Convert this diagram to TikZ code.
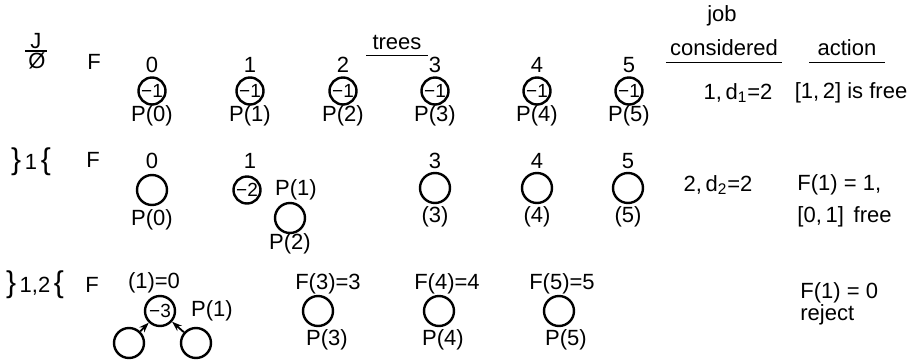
\documentclass[tikz,border=0pt]{standalone}
\usepackage{fontspec}
\setmainfont{Liberation Sans}
\usetikzlibrary{arrows.meta}
\newcommand{\bigbr}[1]{{\fontsize{15}{15}\selectfont #1}}
\begin{document}
\begin{tikzpicture}[x=0.5pt, y=-0.5pt,
  tree/.style={circle, draw, line width=1.2pt, minimum size=\treesz, inner sep=0pt, font=\fontsize{9.5}{9}\selectfont},
  treesm/.style={tree, minimum size=\treesmsz},
  lbl/.style={inner sep=0pt, font=\fontsize{11}{12}\selectfont},
  lbll/.style={lbl, anchor=west},
  uline/.style={line width=0.8pt}]
% Trees of the job sequencing example, pixel grid 912 x 360
\def\treesz{15pt}
\def\treesmsz{13.5pt}
\useasboundingbox (0,0) rectangle (912,360);
% Header
\node[lbl] (hj) at (36,41) {J};
\node[lbl] (hnull) at (37,61) {Ø};
\draw[uline] (25,51) coordinate (hja) -- (47,51) coordinate (hjb);
\node[lbl] (trees) at (397,42) {trees};
\draw[uline] ([xshift=-3pt,yshift=-3pt]trees.south west) -- ([xshift=3pt,yshift=-3pt]trees.south east);
\node[lbl] (hjob) at (722,16) {job};
\node[lbl] (hcons) at (724,48) {considered};
\draw[uline] ([xshift=-2pt,yshift=-3pt]hcons.south west) -- ([xshift=2pt,yshift=-3pt]hcons.south east);
\node[lbl] (hact) at (847,48) {action};
\draw[uline] ([xshift=-4pt,yshift=-3pt]hact.south west) -- ([xshift=4pt,yshift=-3pt]hact.south east);
% Row 1: J empty
\node[lbl] (f1) at (94,62) {F};
\foreach \i/\x in {0/152,1/250,2/343,3/435,4/537,5/629} {
  \node[lbl] (a\i) at (\x,65) {\i};
  \node[treesm] (ta\i) at (\x,91) {−1};
  \node[lbl] (pa\i) at (\x,116) {P(\i)};
}
\node[lbl] (job1) at (738,93) {1,\,d\textsubscript{1}=2};
\node[lbl] (act1) at (851,93) {[1,\,2] is free};
% Row 2: J = {1}
\node[lbl] (j2) at (31,162) {\bigbr{\}}\,1\,\bigbr{\{}};
\node[lbl] (f2) at (93,160) {F};
\node[lbl] (b0) at (152,161) {0};
\node[tree] (tb0) at (152,190) {};
\node[lbl] (pb0) at (152,220) {P(0)};
\node[lbl] (b1) at (250,161) {1};
\node[treesm] (tb1) at (247,190) {−2};
\node[lbl] (pb1) at (296,190) {P(1)};
\node[tree] (tb2) at (290,218) {};
\node[lbl] (pb2) at (290,244) {P(2)};
\foreach \i/\x in {3/435,4/537,5/628} {
  \node[lbl] (b\i) at (\x,161) {\i};
  \node[tree] (tb\i) at (\x,188) {};
  \node[lbl] (pb\i) at (\x,217) {(\i)};
}
\node[lbl] (job2) at (718,185) {2,\,d\textsubscript{2}=2};
\node[lbll] (act2a) at (797,185) {F(1) = 1,};
\node[lbll] (act2b) at (797,217) {[0,\,1]\, free};
% Row 3: J = {1,2}
\node[lbl] (j3) at (35,285) {\bigbr{\}}\,1,2\,\bigbr{\{}};
\node[lbl] (f3) at (92,285) {F};
\node[lbl] (c1) at (154,283) {(1)=0};
\node[tree] (tc1) at (160,311) {−3};
\node[lbl] (pc1) at (212,311) {P(1)};
\node[tree] (tcl) at (129,343) {};
\node[tree] (tcr) at (196,343) {};
\draw[line width=0.9pt, -{Stealth[length=5pt,width=3.5pt]}] (tcl) -- (tc1);
\draw[line width=0.9pt, -{Stealth[length=5pt,width=3.5pt]}] (tcr) -- (tc1);
\foreach \i/\xl/\xc/\xp in {3/328/318/327,4/447/439/443,5/562/559/566} {
  \node[lbl] (c\i) at (\xl,284) {F(\i)=\i};
  \node[tree] (tc\i) at (\xc,311) {};
  \node[lbl] (pc\i) at (\xp,340) {P(\i)};
}
\node[lbll] (act3a) at (800,293) {F(1) = 0};
\node[lbll] (act3b) at (800,315) {reject};
\end{tikzpicture}
\end{document}
